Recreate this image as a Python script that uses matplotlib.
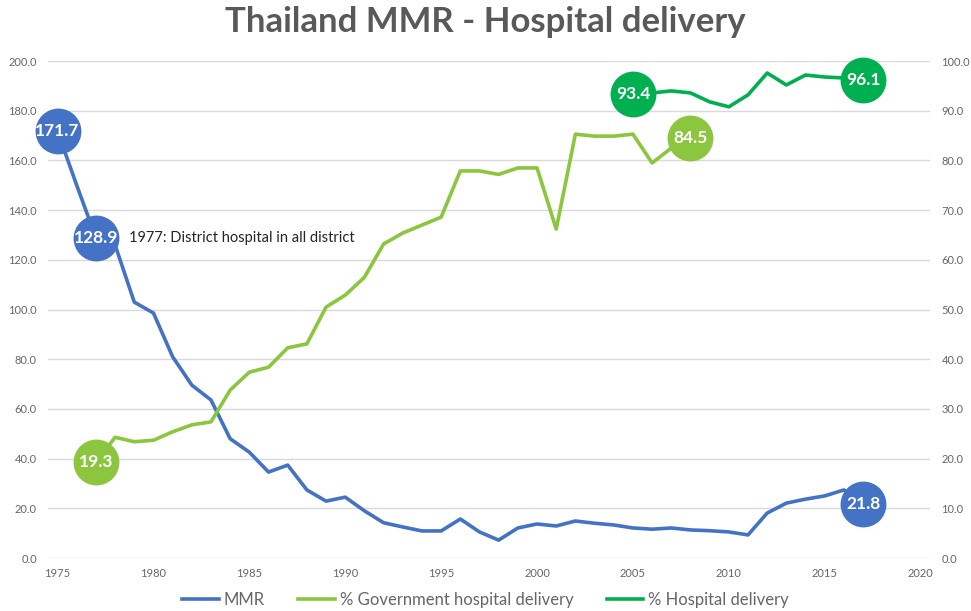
import numpy as np
from matplotlib import pyplot as plt

plt.rcParams['font.family'] = ['Lato', 'DejaVu Sans']

# MMR per year (left axis)
mmr_years = list(range(1975, 2018))
mmr = [171.7, 150.0, 128.9, 126.0, 103.0, 98.6, 81.0, 69.6, 63.6, 48.0,
       42.6, 34.6, 37.4, 27.4, 22.9, 24.5, 19.0, 14.2, 12.5, 10.9,
       10.9, 15.7, 10.5, 7.2, 12.1, 13.7, 12.9, 14.9, 14.0, 13.3,
       12.1, 11.6, 12.1, 11.3, 11.0, 10.5, 9.3, 18.1, 22.1, 23.7,
       25.0, 27.4, 21.8]

# % government hospital delivery (right axis)
gov_years = list(range(1977, 2009))
gov = [19.3, 24.3, 23.4, 23.7, 25.4, 26.8, 27.4, 33.8, 37.4, 38.4,
       42.3, 43.1, 50.5, 52.9, 56.5, 63.2, 65.4, 67.0, 68.6, 77.9,
       77.9, 77.2, 78.5, 78.5, 66.2, 85.3, 84.9, 84.9, 85.3, 79.5,
       82.5, 84.5]

# % hospital delivery (right axis)
hosp_years = list(range(2005, 2018))
hosp = [93.4, 93.6, 94.0, 93.6, 91.8, 90.8, 93.2, 97.6, 95.2, 97.2,
        96.8, 96.6, 96.1]

# which points get a bubble label
mmr_labels = [1975, 1977, 2017]
gov_labels = [1977, 2008]
hosp_labels = [2005, 2017]

BLUE = '#4472C4'
LGREEN = '#8CC63F'
DGREEN = '#00B050'
GREY = '#666666'

fig = plt.figure(figsize=(9.71, 6.11), dpi=100)
ax = fig.add_axes([0.0494, 0.0867, 0.9086, 0.8133])
ax2 = ax.twinx()

l1, = ax.plot(mmr_years, mmr, color=BLUE, lw=2.6, solid_joinstyle='round', label='MMR')
l2, = ax2.plot(gov_years, gov, color=LGREEN, lw=2.6, solid_joinstyle='round',
               label='% Government hospital delivery')
l3, = ax2.plot(hosp_years, hosp, color=DGREEN, lw=2.6, solid_joinstyle='round',
               label='% Hospital delivery')

def bubbles(axis, years, vals, picks, color):
    for yr in picks:
        v = vals[years.index(yr)]
        axis.plot(yr, v, 'o', ms=32, color=color, mec=color, zorder=5, clip_on=False)
        axis.text(yr, v, '%.1f' % v, color='white', fontsize=12.5, fontweight='bold',
                  ha='center', va='center', zorder=6)

bubbles(ax, mmr_years, mmr, mmr_labels, BLUE)
bubbles(ax2, gov_years, gov, gov_labels, LGREEN)
bubbles(ax2, hosp_years, hosp, hosp_labels, DGREEN)

ax.text(1978.7, 128.9, '1977: District hospital in all district', fontsize=10.5,
        color='#262626', ha='left', va='center')

ax.set_xlim(1974.5, 2020.5)
ax.set_ylim(0, 200)
ax2.set_ylim(0, 100)
ax.set_xticks(range(1975, 2021, 5))
ax.set_yticks(np.arange(0, 201, 20))
ax2.set_yticks(np.arange(0, 101, 10))
ax.set_yticklabels(['%.1f' % v for v in np.arange(0, 201, 20)])
ax2.set_yticklabels(['%.1f' % v for v in np.arange(0, 101, 10)])

for a in (ax, ax2):
    for s in a.spines.values():
        s.set_visible(False)
    a.tick_params(length=0, labelsize=8, labelcolor=GREY)
ax.tick_params(axis='x', pad=7)
ax.tick_params(axis='y', pad=8)
ax2.tick_params(axis='y', pad=8)
ax.grid(axis='y', color='#D9D9D9', lw=1)
ax.set_axisbelow(True)

fig.suptitle('Thailand MMR - Hospital delivery', fontsize=25, fontweight='bold',
             color='#595959', y=0.99, va='top')

fig.legend(handles=[l1, l2, l3], loc='lower center', bbox_to_anchor=(0.5, -0.02),
           ncol=3, frameon=False, fontsize=12, labelcolor=GREY,
           handlelength=2.2, handletextpad=0.3, columnspacing=2.0)

fig.savefig('out.png', dpi=100)
